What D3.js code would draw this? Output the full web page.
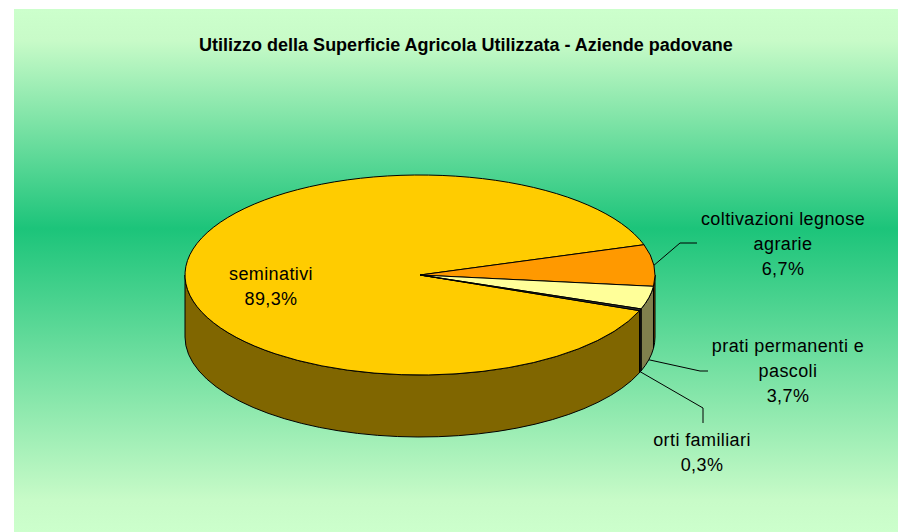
<!DOCTYPE html>
<html>
<head>
<meta charset="utf-8">
<script src="https://cdn.jsdelivr.net/npm/d3@7/dist/d3.min.js"></script>
<style>
	html, body { margin: 0; padding: 0; background: #ffffff; }
	svg { display: block; font-family: "Liberation Sans", Arial, sans-serif; }
	.lbl { font-size: 18px; letter-spacing: 0.4px; fill: #000; }
	.title { font-size: 18px; font-weight: bold; fill: #000; }
</style>
</head>
<body>
<svg id="chart" width="899" height="532"></svg>
<script>
// data
var categories = ["seminativi", "coltivazioni legnose agrarie", "prati permanenti e pascoli", "orti familiari"];
var values = [89.3, 6.7, 3.7, 0.3];
var labelLines = [["seminativi"], ["coltivazioni legnose", "agrarie"], ["prati permanenti e", "pascoli"], ["orti familiari"]];
var topColors = ["#ffcc00", "#ff9900", "#ffff99", "#333333"];
var title = "Utilizzo della Superficie Agricola Utilizzata - Aziende padovane";

var W = 899, H = 532;
var cx = 420, cy = 275, rx = 235, ry = 100, depth = 62;

var svg = d3.select("#chart");

// background panel with vertical gradient
var grad = svg.append("defs").append("linearGradient")
	.attr("id", "bg").attr("x1", 0).attr("y1", 0).attr("x2", 0).attr("y2", 1);
grad.append("stop").attr("offset", "0").attr("stop-color", "#ccffcc");
grad.append("stop").attr("offset", "0.06").attr("stop-color", "#c8fbc8");
grad.append("stop").attr("offset", "0.42").attr("stop-color", "#1cc47a");
grad.append("stop").attr("offset", "0.94").attr("stop-color", "#c8fbc8");
grad.append("stop").attr("offset", "1").attr("stop-color", "#ccffcc");

svg.append("rect")
	.attr("x", 14).attr("y", 9).attr("width", 884).attr("height", 523)
	.attr("fill", "url(#bg)");

svg.append("text").attr("class", "title")
	.attr("x", 466).attr("y", 51)
	.attr("text-anchor", "middle")
	.text(title);

var fmt = d3.formatLocale({decimal: ",", thousands: ".", grouping: [3], currency: ["", "€"]}).format(".1f");

var a0 = (20.9 + 90) * Math.PI / 180;
var pie = d3.pie().sort(null).startAngle(a0).endAngle(a0 + 2 * Math.PI);
var arcs = pie(values);

var pt = function(a, dy)
{
	return [cx + rx * Math.sin(a), cy - ry * Math.cos(a) + (dy || 0)];
};

var sidePath = function(s, e)
{
	var p0 = pt(s), p1 = pt(e), q1 = pt(e, depth), q0 = pt(s, depth);
	return "M" + p0 + "A" + rx + "," + ry + " 0 0 1 " + p1 +
		"L" + q1 + "A" + rx + "," + ry + " 0 0 0 " + q0 + "Z";
};

// visible (front) intervals of the rim
var front = [[Math.PI / 2, 3 * Math.PI / 2], [Math.PI / 2 + 2 * Math.PI, 3 * Math.PI / 2 + 2 * Math.PI]];
var sides = [];
arcs.forEach(function(d, i)
{
	front.forEach(function(f)
	{
		var s = Math.max(d.startAngle, f[0]), e = Math.min(d.endAngle, f[1]);
		if (e > s) sides.push({i: i, s: s, e: e});
	});
});

var sideColor = function(c)
{
	var r = d3.rgb(c);
	return d3.rgb(r.r / 2, r.g / 2, r.b / 2).formatHex();
};

svg.append("g").selectAll("path").data(sides).enter().append("path")
	.attr("d", function(d) { return sidePath(d.s, d.e); })
	.attr("fill", function(d) { return sideColor(topColors[d.i]); })
	.attr("stroke", "#000").attr("stroke-width", 1).attr("stroke-linejoin", "round");

var arc = d3.arc().innerRadius(0).outerRadius(rx);
svg.append("g")
	.attr("transform", "translate(" + cx + "," + cy + ") scale(1," + (ry / rx) + ")")
	.selectAll("path").data(arcs).enter().append("path")
	.attr("d", arc)
	.attr("fill", function(d, i) { return topColors[i]; })
	.attr("stroke", "#000").attr("stroke-width", 1)
	.attr("vector-effect", "non-scaling-stroke");

// labels: center x, first baseline, elbow points for leader lines
var labelLayout = [
	{x: 271, y: 280, line: null},
	{x: 783, y: 225, line: [[680, 243], [697, 243]]},
	{x: 788, y: 352, line: [[700, 371], [708, 371]]},
	{x: 702, y: 446, line: [[703, 408], [703, 423]]}
];

arcs.forEach(function(d, i)
{
	var L = labelLayout[i];
	var lines = labelLines[i].concat([fmt(values[i]) + "%"]);
	var t = svg.append("text").attr("class", "lbl").attr("text-anchor", "middle");
	lines.forEach(function(s, k)
	{
		t.append("tspan").attr("x", L.x).attr("y", L.y + k * 25).text(s);
	});
	if (L.line)
	{
		var m = (d.startAngle + d.endAngle) / 2;
		var top = pt(m);
		var anchor = (top[1] <= cy) ? top : pt(m, depth);
		svg.append("polyline")
			.attr("points", [anchor].concat(L.line).join(" "))
			.attr("fill", "none").attr("stroke", "#000").attr("stroke-width", 1);
	}
});
</script>
</body>
</html>
